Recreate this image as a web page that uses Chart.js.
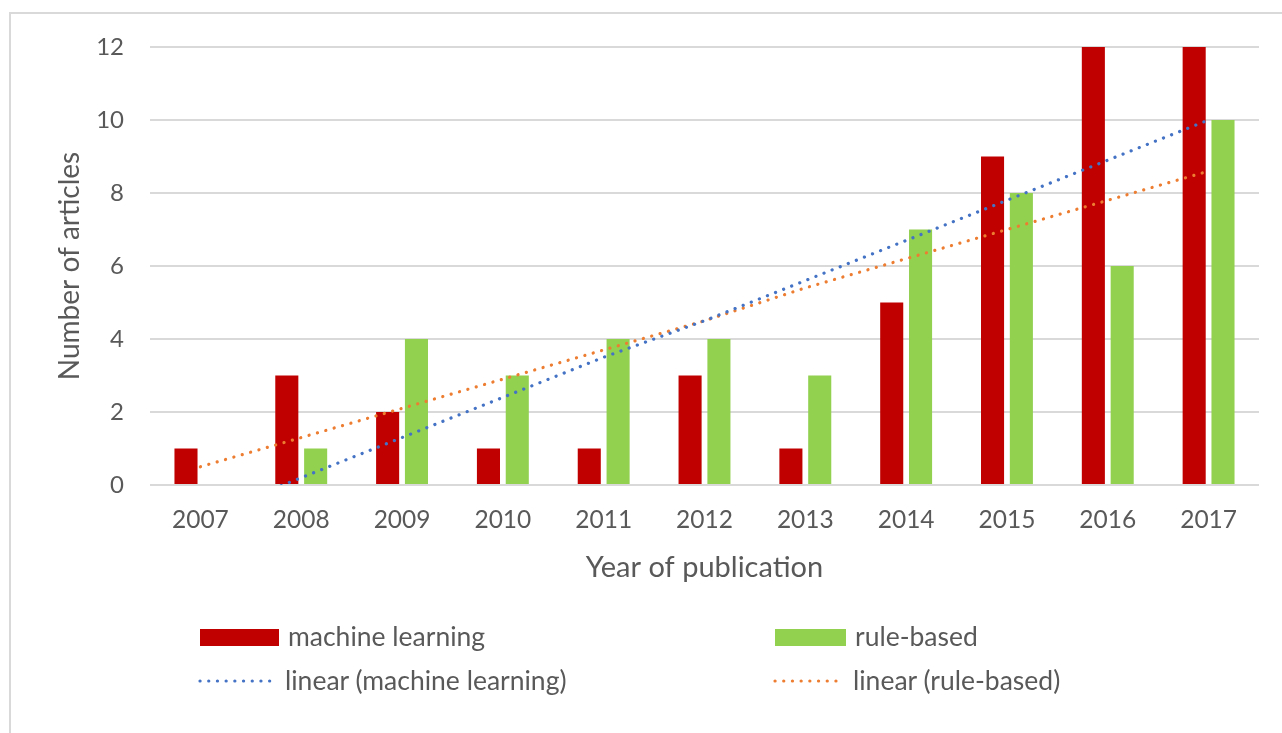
<!DOCTYPE html>
<html>
<head>
<meta charset="utf-8">
<script src="https://cdn.jsdelivr.net/npm/chart.js@4"></script>
<style>
  html, body { margin: 0; padding: 0; background: #fff; }
  body { width: 1282px; height: 733px; position: relative; overflow: hidden; font-family: Lato, "Open Sans", sans-serif; }
  #frame { position: absolute; left: 9px; top: 12px; width: 1400px; height: 800px; border-left: 2px solid #d9d9d9; border-top: 2px solid #d9d9d9; }
  #wrap { position: absolute; left: 0; top: 0; width: 1282px; height: 733px; }
  .lg { position: absolute; color: #595959; font-size: 26.5px; line-height: 32px; white-space: nowrap; }
  .sw { position: absolute; }
</style>
</head>
<body>
<div id="frame"></div>
<div id="wrap"><canvas id="c" width="1282" height="733"></canvas></div>
<div id="legend"></div>
<script>
const years = ['2007', '2008', '2009', '2010', '2011', '2012', '2013', '2014', '2015', '2016', '2017'];
const machineLearning = [1, 3, 2, 1, 1, 3, 1, 5, 9, 12, 12];
const ruleBased = [0, 1, 4, 3, 4, 4, 3, 7, 8, 6, 10];
const linearMachineLearning = [-0.9, 0.2, 1.3, 2.4, 3.5, 4.5, 5.6, 6.7, 7.8, 8.9, 10.0];
const linearRuleBased = [0.5, 1.3, 2.1, 2.9, 3.7, 4.5, 5.4, 6.2, 7.0, 7.8, 8.6];
const yTickValues = [0, 2, 4, 6, 8, 10, 12];
const seriesNames = ['machine learning', 'rule-based', 'linear (machine learning)', 'linear (rule-based)'];
const xTitle = 'Year of publication';
const yTitle = 'Number of articles';

const RED = '#C00000', GREEN = '#92D050', BLUE = '#4472C4', ORANGE = '#ED7D31', TXT = '#595959';
const FONT = 'Lato, "Open Sans", sans-serif';

new Chart(document.getElementById('c'), {
  data: {
    labels: years,
    datasets: [
      { type: 'line', label: seriesNames[2], data: linearMachineLearning, borderColor: BLUE, borderWidth: 3.2,
        borderDash: [0.1, 8.6], borderCapStyle: 'round', pointRadius: 0, fill: false, order: 0, clip: 0 },
      { type: 'line', label: seriesNames[3], data: linearRuleBased, borderColor: ORANGE, borderWidth: 3.2,
        borderDash: [0.1, 8.6], borderCapStyle: 'round', pointRadius: 0, fill: false, order: 0, clip: 0 },
      { type: 'bar', label: seriesNames[0], data: machineLearning, backgroundColor: RED, order: 1,
        categoryPercentage: 0.572, barPercentage: 0.8 },
      { type: 'bar', label: seriesNames[1], data: ruleBased, backgroundColor: GREEN, order: 1,
        categoryPercentage: 0.572, barPercentage: 0.8 }
    ]
  },
  options: {
    responsive: false,
    animation: false,
    events: [],
    layout: { padding: { top: 47, left: 0, right: 23, bottom: 133 } },
    plugins: { legend: { display: false }, tooltip: { enabled: false } },
    scales: {
      x: {
        type: 'category',
        offset: true,
        grid: { display: false, drawTicks: false },
        border: { display: false },
        ticks: { color: TXT, font: { family: FONT, size: 24.5 }, padding: 20, maxRotation: 0, autoSkip: false },
        title: { display: true, text: xTitle, color: TXT, font: { family: FONT, size: 29 }, padding: { top: 0, bottom: 14.6 } },
        afterFit: s => { s.height = 115; }
      },
      y: {
        min: 0, max: 12,
        afterBuildTicks: s => { s.ticks = yTickValues.map(v => ({ value: v })); },
        grid: { color: '#d9d9d9', lineWidth: 2, drawTicks: false },
        border: { display: false },
        ticks: { color: TXT, font: { family: FONT, size: 24 }, padding: 26 },
        title: { display: true, text: yTitle, color: TXT, font: { family: FONT, size: 28 }, padding: { top: 53, bottom: 0 } },
        afterFit: s => { s.width = 150; }
      }
    }
  }
});

// HTML legend (two columns, two rows)
const legendItems = [
  { name: seriesNames[0], kind: 'box', color: RED, x: 200, w: 79, y: 637 },
  { name: seriesNames[1], kind: 'box', color: GREEN, x: 775, w: 71, y: 637 },
  { name: seriesNames[2], kind: 'dot', color: BLUE, x: 200, w: 76, y: 681 },
  { name: seriesNames[3], kind: 'dot', color: ORANGE, x: 775, w: 69, y: 681 }
];
const lg = document.getElementById('legend');
legendItems.forEach(it => {
  if (it.kind === 'box') {
    const d = document.createElement('div');
    d.className = 'sw';
    d.style.cssText = `left:${it.x}px;top:${it.y - 8.5}px;width:${it.w}px;height:17px;background:${it.color};`;
    lg.appendChild(d);
  } else {
    const ns = 'http://www.w3.org/2000/svg';
    const svg = document.createElementNS(ns, 'svg');
    svg.setAttribute('width', it.w + 4); svg.setAttribute('height', 8);
    svg.style.cssText = `position:absolute;left:${it.x - 2}px;top:${it.y - 4}px;`;
    const ln = document.createElementNS(ns, 'line');
    ln.setAttribute('x1', 2); ln.setAttribute('x2', it.w + 2); ln.setAttribute('y1', 4); ln.setAttribute('y2', 4);
    ln.setAttribute('stroke', it.color); ln.setAttribute('stroke-width', 3.2);
    ln.setAttribute('stroke-linecap', 'round'); ln.setAttribute('stroke-dasharray', '0.1 8.6');
    svg.appendChild(ln);
    lg.appendChild(svg);
  }
  const t = document.createElement('div');
  t.className = 'lg';
  t.textContent = it.name;
  t.style.left = (it.x + it.w + 9) + 'px';
  t.style.top = (it.y - 17) + 'px';
  lg.appendChild(t);
});
</script>
</body>
</html>
